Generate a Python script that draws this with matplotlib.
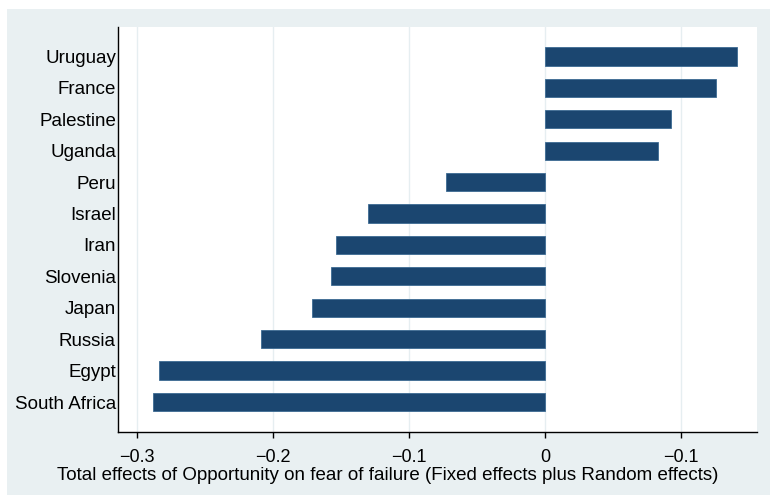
import numpy as np
import matplotlib
matplotlib.use("Agg")
import matplotlib.pyplot as plt
from matplotlib.patches import Rectangle

countries = ["South Africa", "Egypt", "Russia", "Japan", "Slovenia", "Iran",
             "Israel", "Peru", "Uganda", "Palestine", "France", "Uruguay"]
effects = [-0.288, -0.284, -0.209, -0.171, -0.157, -0.154,
           -0.130, -0.073, 0.083, 0.093, 0.126, 0.141]
xticks = [-0.3, -0.2, -0.1, 0, 0.1]
xticklabels = ["\u22120.3", "\u22120.2", "\u22120.1", "0", "\u22120.1"]
xlabel = "Total effects of Opportunity on fear of failure (Fixed effects plus Random effects)"

plt.rcParams["font.family"] = ["Liberation Sans", "DejaVu Sans"]

W, H = 770, 495
fig = plt.figure(figsize=(W / 100, H / 100), dpi=100, facecolor="white")
# light panel behind the plot, leaving a thin white margin top and left
bgcol = "#e9f0f2"
fig.patches.append(Rectangle((7 / W, 0), 1 - 7 / W, 1 - 9 / H, transform=fig.transFigure,
                             facecolor=bgcol, edgecolor="none", zorder=-10))

left, right, top, bottom = 118, 757, 27, 432
ax = fig.add_axes([left / W, 1 - bottom / H, (right - left) / W, (bottom - top) / H])
ax.set_facecolor("white")

y = np.arange(len(countries))
ax.barh(y, effects, height=0.58, color="#1b4670", edgecolor="#3d6b93", linewidth=0.6, zorder=3)

ax.set_xlim(-0.314, 0.1559)
ax.set_ylim(-0.955, 11.94)
ax.set_xticks(xticks)
ax.set_xticklabels(xticklabels, fontsize=13)
ax.set_yticks(y)
ax.set_yticklabels(countries, fontsize=13.5)
ax.tick_params(axis="y", length=0, pad=1.5)
ax.tick_params(axis="x", length=4.5, width=1, pad=8, color="black")
ax.grid(axis="x", color="#e6eef1", linewidth=1, zorder=0)
ax.set_axisbelow(True)

for s in ["top", "right"]:
    ax.spines[s].set_visible(False)
for s in ["left", "bottom"]:
    ax.spines[s].set_color("black")
    ax.spines[s].set_linewidth(1)

# axis title sits centred under the whole panel rather than the axes
fig.text(387.5 / W, 1 - 475 / H, xlabel, fontsize=13.5, ha="center", va="center")

fig.savefig("out.png", dpi=100, facecolor="white")
